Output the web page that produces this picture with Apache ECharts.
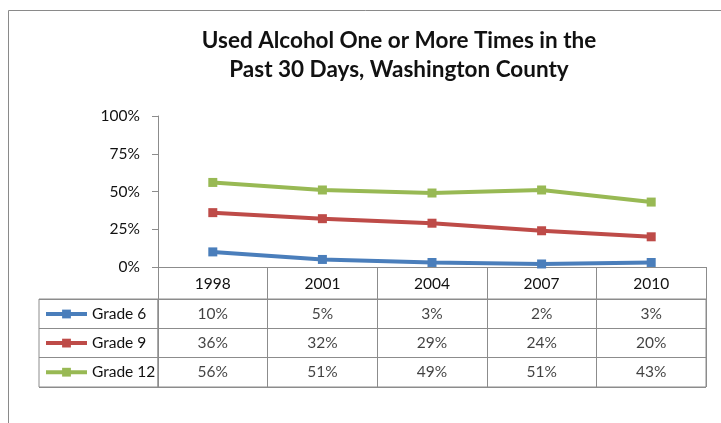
<!DOCTYPE html>
<html>
<head>
<meta charset="utf-8">
<script src="https://cdn.jsdelivr.net/npm/echarts@6/dist/echarts.min.js"></script>
<style>
  html, body { margin: 0; padding: 0; background: #fff; }
  #chart { width: 721px; height: 423px; }
</style>
</head>
<body>
<div id="chart"></div>
<script>
// Survey years and share of students reporting alcohol use in the past 30 days (%)
const years = ['1998', '2001', '2004', '2007', '2010'];
const grade6 = [10, 5, 3, 2, 3];
const grade9 = [36, 32, 29, 24, 20];
const grade12 = [56, 51, 49, 51, 43];
const seriesNames = ['Grade 6', 'Grade 9', 'Grade 12'];
const percentTicks = [0, 25, 50, 75, 100];

const colors = ['#4A7EBB', '#BE4B48', '#98B954'];
const allSeries = [grade6, grade9, grade12];
const FONT = 'Lato, "Liberation Sans", sans-serif';
const GRID_LINE = '#8C8C8C';
const TEXT = '#111';
const FS = 15.5;

// Cells of the data table below the plot: [column, row, value]
const tableCells = [];
allSeries.forEach((vals, r) => vals.forEach((v, c) => tableCells.push([c, r, v])));

const chart = echarts.init(document.getElementById('chart'), null, { renderer: 'canvas' });

const lineSeries = allSeries.map((vals, i) => ({
  name: seriesNames[i],
  type: 'line',
  xAxisIndex: 0,
  yAxisIndex: 0,
  data: vals,
  symbol: 'rect',
  symbolSize: 9,
  lineStyle: { width: 4, color: colors[i] },
  itemStyle: { color: colors[i] },
  z: 3 + i
}));

chart.setOption({
  animation: false,
  backgroundColor: '#fff',
  title: {
    text: 'Used Alcohol One or More Times in the\nPast 30 Days, Washington County',
    left: 394,
    top: 21,
    textAlign: 'center',
    textStyle: {
      fontFamily: FONT,
      fontWeight: 'bold',
      fontSize: 22.5,
      lineHeight: 29,
      color: '#111'
    }
  },
  legend: {
    data: seriesNames,
    orient: 'vertical',
    left: 39,
    top: 301,
    itemWidth: 41,
    itemHeight: 11,
    itemGap: 13.1,
    selectedMode: false,
    lineStyle: { width: 4 },
    textStyle: { fontFamily: FONT, fontSize: FS, color: TEXT }
  },
  graphic: [{
    // chart frame
    type: 'rect',
    shape: { x: 8.5, y: 10.5, width: 800, height: 600 },
    style: { fill: null, stroke: '#8A8A8A', lineWidth: 1 },
    silent: true
  }],
  grid: [
    { left: 158, width: 548, top: 116, height: 151 },
    { left: 158, width: 548, top: 299, height: 88, show: true, borderColor: GRID_LINE, borderWidth: 1 },
    { left: 39, width: 119, top: 299, height: 88, show: true, borderColor: GRID_LINE, borderWidth: 1 }
  ],
  xAxis: [
    {
      gridIndex: 0,
      type: 'category',
      data: years,
      boundaryGap: true,
      axisLine: { lineStyle: { color: GRID_LINE, width: 1 } },
      axisTick: { show: true, length: 32, lineStyle: { color: GRID_LINE } },
      axisLabel: { margin: 9, fontFamily: FONT, fontSize: FS, color: TEXT },
      splitLine: { show: false }
    },
    {
      gridIndex: 1,
      type: 'category',
      data: years,
      boundaryGap: true,
      axisLine: { show: false },
      axisTick: { show: false },
      axisLabel: { show: false },
      splitLine: { show: true, lineStyle: { color: GRID_LINE, width: 1 } }
    },
    {
      gridIndex: 2,
      type: 'category',
      data: [''],
      axisLine: { show: false },
      axisTick: { show: false },
      axisLabel: { show: false }
    }
  ],
  yAxis: [
    {
      gridIndex: 0,
      type: 'value',
      min: 0,
      max: 100,
      interval: 25,
      axisLine: { show: true, lineStyle: { color: GRID_LINE, width: 1 } },
      axisTick: { show: true, length: 6, lineStyle: { color: GRID_LINE } },
      axisLabel: {
        margin: 18,
        fontFamily: FONT,
        fontSize: FS,
        color: TEXT,
        formatter: v => (percentTicks.indexOf(v) >= 0 ? v + '%' : '')
      },
      splitLine: { show: false }
    },
    {
      gridIndex: 1,
      type: 'category',
      data: seriesNames,
      inverse: true,
      axisLine: { show: false },
      axisTick: { show: false },
      axisLabel: { show: false },
      splitLine: { show: true, lineStyle: { color: GRID_LINE, width: 1 } }
    },
    {
      gridIndex: 2,
      type: 'category',
      data: seriesNames,
      inverse: true,
      axisLine: { show: false },
      axisTick: { show: false },
      axisLabel: { show: false },
      splitLine: { show: true, lineStyle: { color: GRID_LINE, width: 1 } }
    }
  ],
  series: lineSeries.concat([{
    name: 'table',
    type: 'scatter',
    xAxisIndex: 1,
    yAxisIndex: 1,
    data: tableCells,
    symbolSize: 0,
    silent: true,
    label: {
      show: true,
      position: 'inside',
      fontFamily: FONT,
      fontSize: FS,
      color: TEXT,
      formatter: p => p.value[2] + '%'
    }
  }])
});
</script>
</body>
</html>
